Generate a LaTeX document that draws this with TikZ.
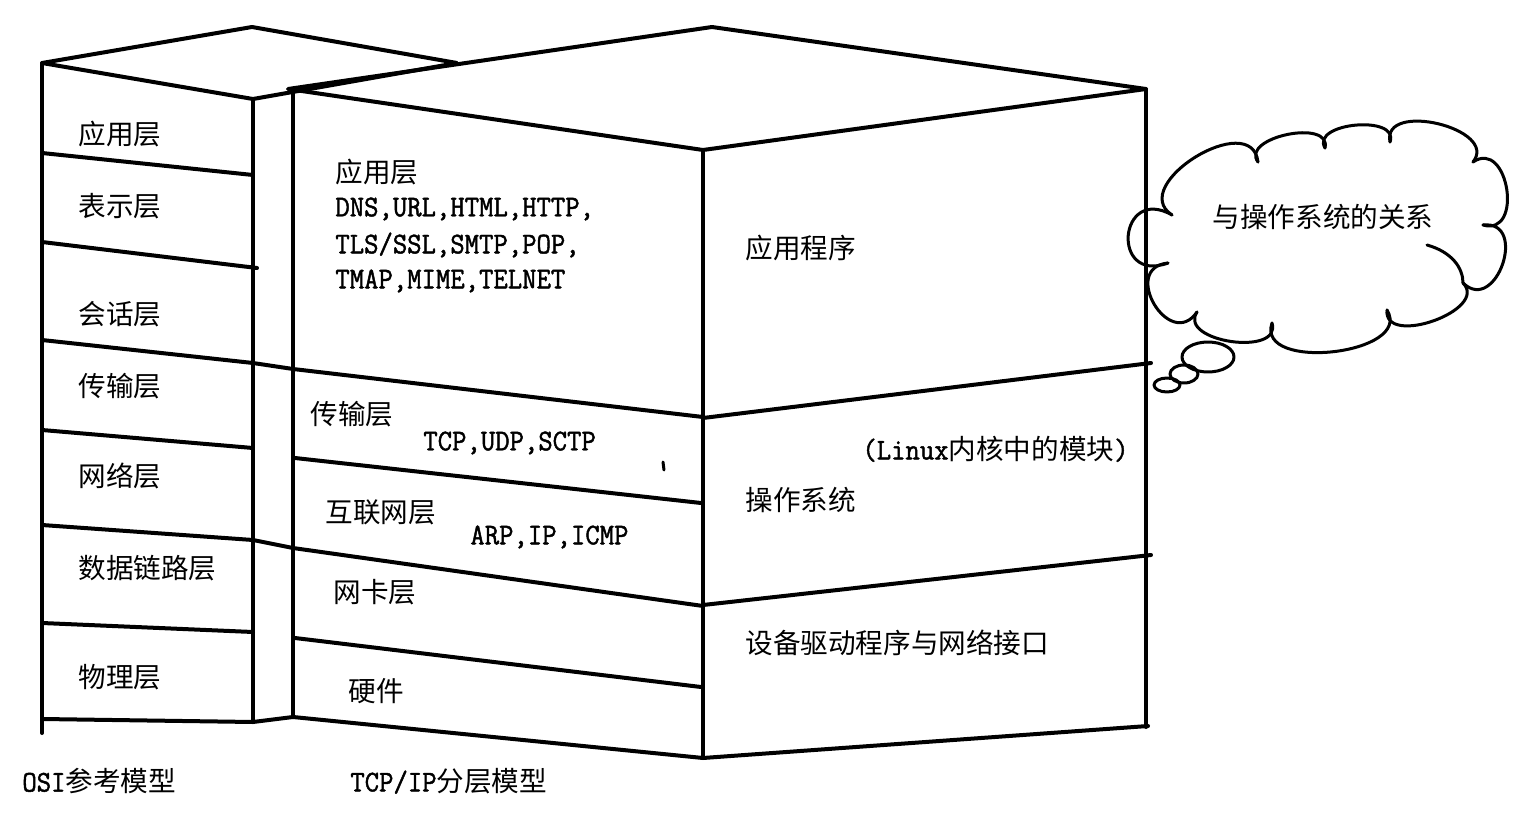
\documentclass[tikz,border=0pt]{standalone}
\usepackage{fontspec}
\setmainfont{Noto Sans CJK SC}
\newfontfamily\mono[FakeStretch=0.93,FakeBold=1.5]{Latin Modern Mono}
\usetikzlibrary{calc}

\newcommand\asc[1]{{\mono\fontsize{15}{18}\selectfont #1}}

\begin{document}
\begin{tikzpicture}
		[x=0.5pt,y=-0.5pt,line cap=round,line join=round,
		%Styles
		edge/.style={line width=2pt},
		cloud line/.style={line width=1.5pt},
		layer text/.style={anchor=west,inner sep=0pt,font=\fontsize{13.8}{16}\selectfont},
		proto text/.style={anchor=west,inner sep=0pt,font=\mono\fontsize{15}{18}\selectfont}
		]
		
		\fill[white] (0,0) rectangle (1538,840);
		\useasboundingbox (0,0) rectangle (1538,840);
		
		%OSI box
		\draw[edge] (42,63) -- (252,27) -- (457,63) -- (253,99) -- cycle;
		\draw[edge] (42,63) -- (42,733);
		\draw[edge] (253,99) -- (253,722);
		\draw[edge] (42,153) -- (253,175);
		\draw[edge] (42,242) -- (257,268);
		\draw[edge] (42,340) -- (253,363) -- (293,369) -- (703,417);
		\draw[edge] (42,430) -- (253,448);
		\draw[edge] (42,525) -- (253,540) -- (293,548) -- (703,606);
		\draw[edge] (42,623) -- (253,632);
		\draw[edge] (42,719) -- (253,722) -- (293,717) -- (703,758) -- (1148,726);
		
		%TCP/IP box
		\draw[edge] (288,89) -- (712,27) -- (1146,89) -- (703,150) -- cycle;
		\draw[edge] (293,91) -- (293,717);
		\draw[edge] (703,150) -- (703,758);
		\draw[edge] (1146,89) -- (1146,727);
		\draw[edge] (295,458) -- (701,503);
		\draw[edge] (295,638) -- (701,687);
		\draw[edge] (703,418) -- (1151,363);
		\draw[edge] (703,605) -- (1151,555);
		\draw[line width=1.5pt] (663,462) -- (664,470);
		
		%OSI layers
		\node[layer text] (osi7) at (78,134) {应用层};
		\node[layer text] (osi6) at (78,206) {表示层};
		\node[layer text] (osi5) at (78,314) {会话层};
		\node[layer text] (osi4) at (78,386) {传输层};
		\node[layer text] (osi3) at (78,476) {网络层};
		\node[layer text] (osi2) at (78,568) {数据链路层};
		\node[layer text] (osi1) at (78,677) {物理层};
		
		%TCP/IP layers
		\node[layer text] (tcpapp) at (335,172) {应用层};
		\node[proto text] (appa) at (335,209) {DNS,URL,HTML,HTTP,};
		\node[proto text] (appb) at (335,245) {TLS/SSL,SMTP,POP,};
		\node[proto text] (appc) at (335,281) {TMAP,MIME,TELNET};
		\node[layer text] (tcptrans) at (310,414) {传输层};
		\node[proto text] (trans) at (423,443) {TCP,UDP,SCTP};
		\node[layer text] (tcpnet) at (325,512) {互联网层};
		\node[proto text] (net) at (470,537) {ARP,IP,ICMP};
		\node[layer text] (tcpnic) at (333,592) {网卡层};
		\node[layer text] (tcphw) at (348,691) {硬件};
		
		%Operating system side
		\node[layer text] (apps) at (745,248) {应用程序};
		\node[layer text] (kernel) at (862,449) {\asc{(Linux}内核中的模块\asc{)}};
		\node[layer text] (os) at (745,500) {操作系统};
		\node[layer text] (drivers) at (745,643) {设备驱动程序与网络接口};
		
		\node[layer text] (osiname) at (22,781) {\asc{OSI}参考模型};
		\node[layer text] (tcpname) at (350,781) {\asc{TCP/IP}分层模型};
		
		%Cloud
		\coordinate (c1) at (1172,215);
		\coordinate (c2) at (1168,263);
		\coordinate (c3) at (1197,312);
		\coordinate (c4) at (1272,323);
		\coordinate (c5) at (1387,310);
		\coordinate (c6) at (1463,283);
		\coordinate (c7) at (1483,225);
		\coordinate (c8) at (1473,162);
		\coordinate (c9) at (1390,142);
		\coordinate (c10) at (1325,148);
		\coordinate (c11) at (1258,162);
		\foreach \a/\b/\f in {c1/c2/1.28, c2/c3/0.85, c3/c4/0.47, c4/c5/0.45, c5/c6/0.47,
			c6/c7/0.75, c7/c8/0.67, c8/c9/0.5, c9/c10/0.45, c10/c11/0.45, c11/c1/0.54}
			\draw[cloud line] (\a) .. controls ($(\a)!\f!-115:(\b)$) and ($(\b)!\f!115:(\a)$) .. (\b);
		\draw[cloud line] (1427,245) .. controls (1452,252) and (1463,268) .. (c6);
		\draw[cloud line] (1208,357) ellipse [x radius=26, y radius=15];
		\draw[cloud line] (1184,374) ellipse [x radius=14, y radius=9];
		\draw[cloud line] (1167,385) ellipse [x radius=13, y radius=7];
		
		\node[layer text,anchor=center] (relation) at (1323,217) {与操作系统的关系};
	\end{tikzpicture}
\end{document}
